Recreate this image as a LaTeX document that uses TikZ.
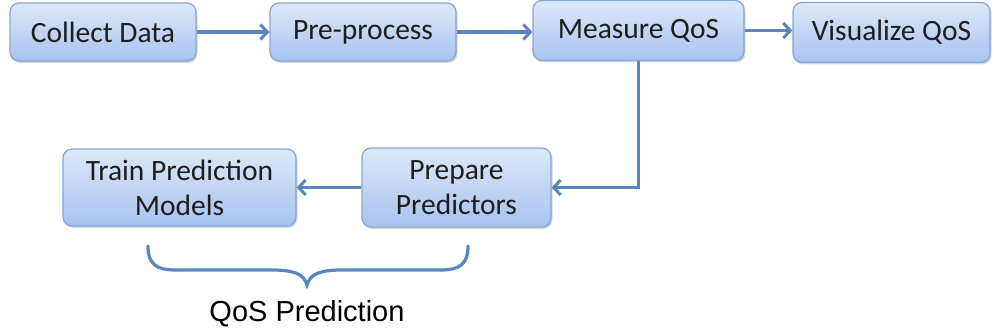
\documentclass[tikz,border=0pt]{standalone}
\usepackage{fontspec}
\setmainfont{Carlito}
\newfontfamily\labelfont{Liberation Sans}
\usetikzlibrary{arrows.meta,shadows}
\definecolor{boxtop}{HTML}{DDE8F9}
\definecolor{boxbot}{HTML}{A6C3EE}
\definecolor{boxline}{HTML}{86A6D8}
\definecolor{flow}{HTML}{5A86C0}
\definecolor{ink}{HTML}{1E1E1E}
\tikzset{
  stepbox/.style={draw=boxline, line width=1.2pt, rounded corners=9pt,
    top color=boxtop, bottom color=boxbot, text=ink, align=center,
    font=\fontsize{29.5}{35}\selectfont, inner sep=0pt,
    drop shadow={shadow xshift=1.5pt, shadow yshift=-2pt, opacity=0.25, fill=black!60}},
  flowline/.style={draw=flow, line width=3.2pt},
  flowarrow/.style={flowline, -{Straight Barb[length=7pt,width=15pt,line width=3pt]}}
}
\begin{document}
\begin{tikzpicture}[x=1pt,y=-1pt]
  \useasboundingbox (0,0) rectangle (994,334);
  \fill[white] (0,0) rectangle (994,334);

  \node[stepbox, minimum width=186pt, minimum height=58pt] (collect) at (103,32) {\raisebox{-3pt}{Collect Data}};
  \node[stepbox, minimum width=186pt, minimum height=58pt] (pre) at (363,32) {\raisebox{-3pt}{Pre-process}};
  \node[stepbox, minimum width=211pt, minimum height=60pt] (measure) at (638.5,30.5) {\raisebox{-2pt}{Measure QoS}};
  \node[stepbox, minimum width=197pt, minimum height=60pt] (visual) at (891.5,32.5) {\raisebox{-3pt}{Visualize QoS}};
  \node[stepbox, minimum width=233pt, minimum height=77pt] (train) at (179.5,187.5) {Train Prediction\\Models};
  \node[stepbox, minimum width=189pt, minimum height=79pt] (prepare) at (456.5,187.5) {Prepare\\Predictors};

  \draw[flowarrow] (collect.east) -- (pre.west);
  \draw[flowarrow] (pre.east) -- (measure.west |- pre.east);
  \draw[flowarrow] (measure.east) -- (visual.west |- measure.east);
  \draw[flowarrow] (measure.south) |- (prepare.east);
  \draw[flowarrow] (prepare.west) -- (train.east |- prepare.west);

  % brace grouping the prediction steps
  \coordinate (bl) at (148,246);
  \coordinate (br) at (468,246);
  \coordinate (tip) at (307,285);
  \draw[flowline, line cap=round]
    (bl) .. controls (148,264) and (156,270) .. (176,270)
    -- (272,270) .. controls (294,270) and (304,274) .. (tip)
    .. controls (310,274) and (320,270) .. (342,270)
    -- (440,270) .. controls (460,270) and (468,264) .. (br);
  \node[font=\labelfont\fontsize{29}{34}\selectfont, text=black] (qos) at (307,314) {QoS Prediction};
\end{tikzpicture}
\end{document}
